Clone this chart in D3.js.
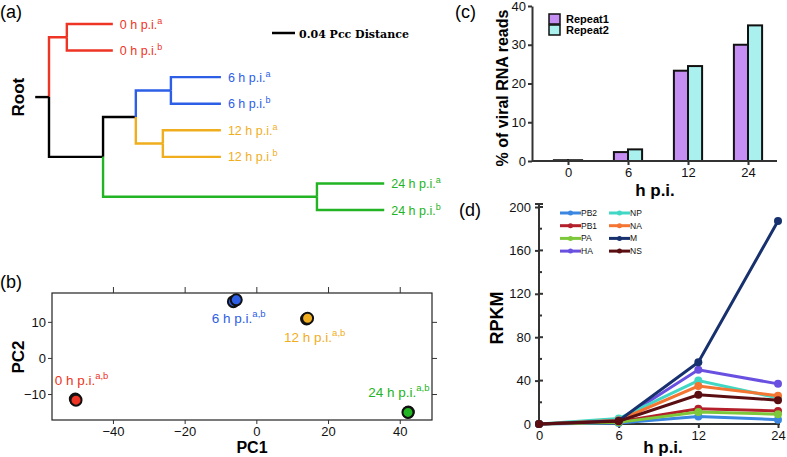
<!DOCTYPE html>
<html>
<head>
<meta charset="utf-8">
<script src="https://cdn.jsdelivr.net/npm/d3@7"></script>
<style>
body { margin:0; background:#fff; }
svg { font-family: "Liberation Sans", Arial, sans-serif; }
.ax path, .ax line { stroke:#333; }
.ax text { font-size:13px; fill:#111; }
</style>
</head>
<body>
<svg width="787" height="457"></svg>
<script>
// ---- (a) clustering tree: branch lengths in Pcc distance
const treeNodes = [
  {id:"root", parent:"",     len:0,     group:""},
  {id:"n0",   parent:"root", len:0.031, group:"0"},
  {id:"0a",   parent:"n0",   len:0.080, group:"0"},
  {id:"0b",   parent:"n0",   len:0.080, group:"0"},
  {id:"nA",   parent:"root", len:0.094, group:""},
  {id:"nB",   parent:"nA",   len:0.057, group:""},
  {id:"n6",   parent:"nB",   len:0.061, group:"6"},
  {id:"6a",   parent:"n6",   len:0.087, group:"6"},
  {id:"6b",   parent:"n6",   len:0.087, group:"6"},
  {id:"n12",  parent:"nB",   len:0.047, group:"12"},
  {id:"12a",  parent:"n12",  len:0.101, group:"12"},
  {id:"12b",  parent:"n12",  len:0.101, group:"12"},
  {id:"n24",  parent:"nA",   len:0.372, group:"24"},
  {id:"24a",  parent:"n24",  len:0.117, group:"24"},
  {id:"24b",  parent:"n24",  len:0.117, group:"24"}
];
const leafNames = {"0a":["0 h p.i.","a"],"0b":["0 h p.i.","b"],"6a":["6 h p.i.","a"],"6b":["6 h p.i.","b"],
  "12a":["12 h p.i.","a"],"12b":["12 h p.i.","b"],"24a":["24 h p.i.","a"],"24b":["24 h p.i.","b"]};
const scaleBarValue = 0.04;

// ---- (b) PCA
const pcaGroup = ["0","0","6","6","12","12","24","24"];
const pcaPC1   = [-50.5,-50.3,-6.4,-5.6,14.0,14.3,42.4,42.3];
const pcaPC2   = [-11.4,-11.7,15.6,16.1,10.8,11.0,-15.0,-15.1];
const pcaLabels = ["0","6","12","24"];
const pcaTicksX = [-40,-20,0,20,40];
const pcaTicksY = [-10,0,10];

// ---- (c) % viral reads
const hpi = ["0","6","12","24"];
const repeatNames = ["Repeat1","Repeat2"];
const repeat1 = [0.2, 2.3, 23.3, 30.0];
const repeat2 = [0.2, 3.0, 24.5, 35.0];

// ---- (d) RPKM per segment
const genes = ["PB2","PB1","PA","HA","NP","NA","M","NS"];
const rpkm = {
  PB2:[0,1.0,7,4], PB1:[0,2.0,14,12], PA:[0,1.5,11,9], HA:[0,3.0,50,37],
  NP:[0,5.0,40,24], NA:[0,3.5,35,26], M:[0,3.0,57,187], NS:[0,2.5,27,22]
};

const groupColor = {"":"#000","0":"#ee3424","6":"#2d5ee6","12":"#f0ae1e","24":"#22b422"};
const geneColor = {PB2:"#3a86e0",PB1:"#b3202c",PA:"#7cc83a",HA:"#6a50e0",NP:"#40d8c4",NA:"#f47432",M:"#17306e",NS:"#5a0e12"};

const svg = d3.select("svg");
const panelLabel = (t,x,y) => svg.append("text").attr("x",x).attr("y",y).attr("font-size",18).text(t);

// ================= (a)
panelLabel("(a)",0,18);
const root = d3.stratify().id(d=>d.id).parentId(d=>d.parent||null)(treeNodes);
root.eachBefore(n => n.dist = (n.parent ? n.parent.dist : 0) + n.data.len);
const leaves = root.leaves();
const xd = d3.scaleLinear().domain([0, scaleBarValue]).range([49, 72]);
const yLeaf = d3.scalePoint().domain(leaves.map(d=>d.id)).range([24, 210]);
root.eachAfter(n => n.y = n.children ? d3.mean(n.children, c=>c.y) : yLeaf(n.id));
const ga = svg.append("g");
ga.selectAll("path.br").data(root.descendants().slice(1)).join("path")
  .attr("fill","none").attr("stroke-width",2.4)
  .attr("stroke", d=>groupColor[d.data.group])
  .attr("d", d=>`M${xd(d.parent.dist)},${d.parent.y}V${d.y}H${xd(d.dist)}`);
ga.append("line").attr("x1",xd(-0.024)).attr("x2",xd(0)).attr("y1",root.y).attr("y2",root.y)
  .attr("stroke","#000").attr("stroke-width",2.4);
const lt = ga.selectAll("text.leaf").data(leaves).join("text")
  .attr("x", d=>xd(d.dist)+7).attr("y", d=>d.y+4.5)
  .attr("font-size",12.5).attr("fill", d=>groupColor[d.data.group]);
lt.append("tspan").text(d=>leafNames[d.id][0]);
lt.append("tspan").attr("dy",-5).attr("font-size",9).text(d=>leafNames[d.id][1]);
svg.append("text").attr("transform",`translate(24,${root.y}) rotate(-90)`).attr("text-anchor","middle")
  .attr("font-size",17).attr("font-weight","bold").text("Root");
svg.append("line").attr("x1",272).attr("x2",272+xd(scaleBarValue)-xd(0)).attr("y1",33).attr("y2",33)
  .attr("stroke","#000").attr("stroke-width",2.5);
svg.append("text").attr("x",299).attr("y",37.5).attr("font-family","'DejaVu Serif', serif")
  .attr("font-weight","bold").attr("font-size",11).text("0.04 Pcc Distance");

// ================= (b)
panelLabel("(b)",0,288);
const xb = d3.scaleLinear().domain([-57,49]).range([52,432]);
const yb = d3.scaleLinear().domain([-17.2,18]).range([420,293]);
const gb = svg.append("g");
gb.append("rect").attr("x",52).attr("y",293).attr("width",380).attr("height",127)
  .attr("fill","none").attr("stroke","#222").attr("stroke-width",1.2);
gb.append("g").attr("class","ax").attr("transform","translate(0,420)")
  .call(d3.axisBottom(xb).tickValues(pcaTicksX).tickSize(4).tickPadding(3).tickFormat(d3.format("d")))
  .call(g=>g.select(".domain").remove());
gb.append("g").attr("transform","translate(0,293)")
  .call(d3.axisTop(xb).tickValues(pcaTicksX).tickSize(6).tickFormat(""))
  .call(g=>{g.select(".domain").remove(); g.selectAll("line").attr("stroke","#333");});
gb.append("g").attr("class","ax").attr("transform","translate(52,0)")
  .call(d3.axisLeft(yb).tickValues(pcaTicksY).tickSize(4).tickPadding(2).tickFormat(d3.format("d")))
  .call(g=>g.select(".domain").remove());
gb.append("g").attr("transform","translate(432,0)")
  .call(d3.axisRight(yb).tickValues(pcaTicksY).tickSize(5).tickFormat(""))
  .call(g=>{g.select(".domain").remove(); g.selectAll("line").attr("stroke","#333");});
gb.selectAll("circle").data(pcaPC1).join("circle")
  .attr("cx", d=>xb(d)).attr("cy", (d,i)=>yb(pcaPC2[i])).attr("r",5.5)
  .attr("fill",(d,i)=>groupColor[pcaGroup[i]]).attr("stroke","#111").attr("stroke-width",2);
const pcaLabelOffset = {"0":[-21,-15],"6":[-23,22],"12":[-23,23],"24":[-40,-15]};
const centers = pcaLabels.map(g => {
  const idx = pcaGroup.map((v,i)=>v===g?i:-1).filter(i=>i>=0);
  return {g, x:d3.mean(idx,i=>xb(pcaPC1[i])), y:d3.mean(idx,i=>yb(pcaPC2[i]))};
});
const pl = gb.selectAll("text.pl").data(centers).join("text")
  .attr("x", d=>d.x+pcaLabelOffset[d.g][0]).attr("y", d=>d.y+pcaLabelOffset[d.g][1])
  .attr("font-size",13.5).attr("fill",d=>groupColor[d.g]);
pl.append("tspan").text(d=>d.g+" h p.i.");
pl.append("tspan").attr("dy",-6).attr("font-size",9.5).text("a,b");
svg.append("text").attr("transform","translate(24,357) rotate(-90)").attr("text-anchor","middle")
  .attr("font-size",17).attr("font-weight","bold").text("PC2");
svg.append("text").attr("x",252).attr("y",453).attr("text-anchor","middle")
  .attr("font-size",16).attr("font-weight","bold").text("PC1");

// ================= (c)
panelLabel("(c)",455,18);
const x0 = d3.scaleBand().domain(hpi).range([538,778]).paddingInner(0.53).paddingOuter(0.265);
const x1 = d3.scaleBand().domain(repeatNames).range([0,x0.bandwidth()]);
const yc = d3.scaleLinear().domain([0,40]).range([161,6]);
const repColor = {Repeat1:"#c48ef2", Repeat2:"#a9f0ee"};
const gc = svg.append("g");
const barRows = hpi.map((h,i)=>({h, vals:[{k:"Repeat1",v:repeat1[i]},{k:"Repeat2",v:repeat2[i]}]}));
gc.selectAll("g.grp").data(barRows).join("g").attr("transform",d=>`translate(${x0(d.h)},0)`)
  .selectAll("rect").data(d=>d.vals).join("rect")
  .attr("x",d=>x1(d.k)).attr("width",x1.bandwidth()).attr("y",d=>yc(d.v)).attr("height",d=>yc(0)-yc(d.v))
  .attr("fill",d=>repColor[d.k]).attr("stroke","#111").attr("stroke-width",2);
gc.append("g").attr("class","ax").attr("transform","translate(532,0)")
  .call(d3.axisLeft(yc).tickValues([0,10,20,30,40]).tickSize(4).tickSizeOuter(0).tickPadding(2))
  .call(g=>g.selectAll("path,line").attr("stroke-width",2));
gc.append("g").attr("class","ax").attr("transform","translate(0,161)")
  .call(d3.axisBottom(d3.scalePoint().domain(hpi).range([x0("0")+x0.bandwidth()/2, x0("24")+x0.bandwidth()/2]))
    .tickSize(4).tickSizeOuter(0).tickPadding(3))
  .call(g=>g.select(".domain").attr("d","M532,0H777"))
  .call(g=>g.selectAll("path,line").attr("stroke-width",2));
const lg = gc.selectAll("g.lg").data(repeatNames).join("g").attr("transform",(d,i)=>`translate(549,${14+i*11})`);
lg.append("rect").attr("width",11).attr("height",10).attr("fill",d=>repColor[d]).attr("stroke","#111").attr("stroke-width",1.5);
lg.append("text").attr("x",17).attr("y",9).attr("font-size",11).attr("font-weight","bold").text(d=>d);
svg.append("text").attr("transform","translate(508,88) rotate(-90)").attr("text-anchor","middle")
  .attr("font-size",16).attr("font-weight","bold").text("% of viral RNA reads");
svg.append("text").attr("x",655).attr("y",196).attr("text-anchor","middle")
  .attr("font-size",17).attr("font-weight","bold").text("h p.i.");

// ================= (d)
panelLabel("(d)",459,216);
const xdd = d3.scalePoint().domain(hpi).range([539,778]);
const ydd = d3.scaleLinear().domain([0,200]).range([424,207]);
const gd = svg.append("g");
gd.append("g").attr("class","ax").attr("transform","translate(539,0)")
  .call(d3.axisLeft(ydd).tickValues([0,40,80,120,160,200]).tickSize(4).tickSizeOuter(0).tickPadding(4))
  .call(g=>g.select(".domain").attr("d","M0,424V204"))
  .call(g=>g.selectAll("path,line").attr("stroke-width",2));
gd.append("g").selectAll("line").data(d3.range(0,201,20)).join("line")
  .attr("x1",539).attr("x2",d=>d%40===0?543:542).attr("y1",d=>ydd(d)).attr("y2",d=>ydd(d))
  .attr("stroke","#333").attr("stroke-width",2);
gd.append("line").attr("x1",535).attr("x2",543).attr("y1",204).attr("y2",204).attr("stroke","#333").attr("stroke-width",2);
gd.append("g").attr("class","ax").attr("transform","translate(0,424)")
  .call(d3.axisBottom(xdd).tickSize(4).tickSizeOuter(0).tickPadding(3))
  .call(g=>g.select(".domain").attr("d","M539,0H780"))
  .call(g=>g.selectAll("path,line").attr("stroke-width",2));
const line = d3.line().x((d,i)=>xdd(hpi[i])).y(d=>ydd(d));
const gs = gd.selectAll("g.gene").data(genes).join("g");
gs.append("path").attr("d",g=>line(rpkm[g])).attr("fill","none").attr("stroke",g=>geneColor[g]).attr("stroke-width",3);
gs.selectAll("circle").data(g=>rpkm[g].map(v=>({g,v}))).join("circle")
  .attr("cx",(d,i)=>xdd(hpi[i])).attr("cy",d=>ydd(d.v)).attr("r",4).attr("fill",d=>geneColor[d.g]);
const gl = gd.selectAll("g.leg").data(genes).join("g")
  .attr("transform",(d,i)=>`translate(${i<4?560:609},${213+(i%4)*12.7})`);
gl.append("line").attr("x1",0).attr("x2",21).attr("stroke",d=>geneColor[d]).attr("stroke-width",3);
gl.append("circle").attr("cx",10.5).attr("r",2.5).attr("fill",d=>geneColor[d]);
gl.append("text").attr("x",21).attr("y",3).attr("font-size",8.5).attr("fill","#111").text(d=>d);
svg.append("text").attr("transform","translate(503,318) rotate(-90)").attr("text-anchor","middle")
  .attr("font-size",18).attr("font-weight","bold").text("RPKM");
svg.append("text").attr("x",663).attr("y",453).attr("text-anchor","middle")
  .attr("font-size",17).attr("font-weight","bold").text("h p.i.");
</script>
</body>
</html>
